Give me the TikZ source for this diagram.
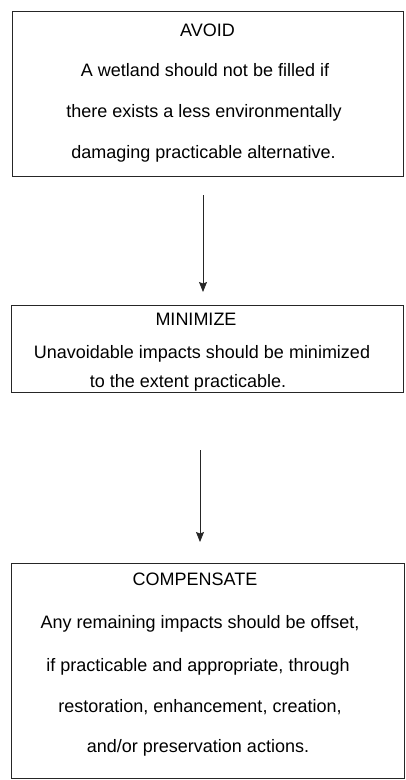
\documentclass[tikz,border=0pt]{standalone}
\usepackage{fontspec}
\setmainfont{Liberation Sans}
\usetikzlibrary{arrows.meta}
\begin{document}
\begin{tikzpicture}[x=1pt,y=-1pt,
  box/.style={draw=black!85,line width=0.9pt},
  txt/.style={anchor=base,inner sep=0pt,font=\fontsize{18}{20}\selectfont},
  arr/.style={draw=black!85,line width=0.9pt,-{Stealth[length=10pt,width=8pt,inset=1.5pt]}}]
\useasboundingbox (0,0) rectangle (405,780);
% boxes
\draw[box] (12,11) rectangle (403,176);
\node[inner sep=0pt] (avoid) at (207.5,93.5) {};
\draw[box] (11,305) rectangle (403,392);
\node[inner sep=0pt] (minimize) at (207,348.5) {};
\draw[box] (11,563) rectangle (404,778);
\node[inner sep=0pt] (compensate) at (207.5,670.5) {};
% texts
\node[txt] (t1a) at (207.5,36) {AVOID};
\node[txt] (t1b) at (205,76.7) {A wetland should not be filled if};
\node[txt] (t1c) at (204,117.3) {there exists a less environmentally};
\node[txt] (t1d) at (203.5,158) {damaging practicable alternative.};
\node[txt] (t2a) at (196,325) {MINIMIZE};
\node[txt] (t2b) at (202,358) {Unavoidable impacts should be minimized};
\node[txt] (t2c) at (188,387) {to the extent practicable.};
\node[txt] (t3a) at (195,585) {COMPENSATE};
\node[txt] (t3b) at (200,628) {Any remaining impacts should be offset,};
\node[txt] (t3c) at (198,671) {if practicable and appropriate, through};
\node[txt] (t3d) at (200,712) {restoration, enhancement, creation,};
\node[txt] (t3e) at (198,752) {and/or preservation actions.};
% arrows
\coordinate (a1s) at (203,195);
\coordinate (a1e) at (203,292);
\coordinate (a2s) at (200,450);
\coordinate (a2e) at (200,542);
\draw[arr] (a1s) -- (a1e);
\draw[arr] (a2s) -- (a2e);
\end{tikzpicture}
\end{document}
